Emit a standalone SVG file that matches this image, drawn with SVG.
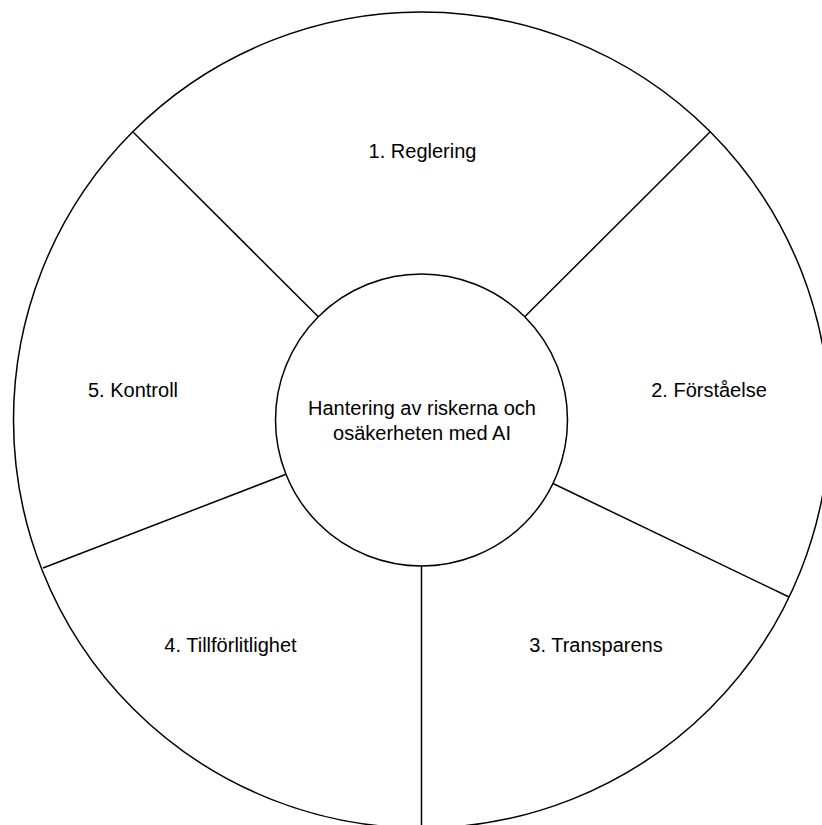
<svg xmlns="http://www.w3.org/2000/svg" width="822" height="825" viewBox="0 0 822 825">
<style>
.shape{fill:#ffffff;stroke:#000000;stroke-width:1.5}
.line{stroke:#000000;stroke-width:1.5;fill:none}
.lbl{font-family:"Liberation Sans",Arial,Helvetica,sans-serif;font-size:20px;fill:#000000;text-anchor:middle}
</style>
<rect width="822" height="825" fill="#ffffff"/>
<g id="outer-ring">
<circle class="shape" cx="421.5" cy="420" r="408"/>
</g>
<g id="connectors">
<line class="line" x1="133" y1="132" x2="318.3" y2="316.8"/>
<line class="line" x1="710" y1="132" x2="524.7" y2="316.8"/>
<line class="line" x1="789" y1="597" x2="553" y2="483.5"/>
<line class="line" x1="421.5" y1="566" x2="421.5" y2="825"/>
<line class="line" x1="43" y1="568" x2="285.5" y2="474.5"/>
</g>
<g id="segment-1"><text class="lbl" x="422.5" y="157.5">1. Reglering</text></g>
<g id="segment-2"><text class="lbl" x="709" y="396.5">2. Förståelse</text></g>
<g id="segment-3"><text class="lbl" x="596" y="651.5">3. Transparens</text></g>
<g id="segment-4"><text class="lbl" x="230.5" y="651.5">4. Tillförlitlighet</text></g>
<g id="segment-5"><text class="lbl" x="133" y="396.5">5. Kontroll</text></g>
<g id="center">
<circle class="shape" cx="421.5" cy="420" r="146"/>
<text class="lbl" x="422" y="415">Hantering av riskerna och</text>
<text class="lbl" x="422" y="440">osäkerheten med AI</text>
</g>
</svg>
